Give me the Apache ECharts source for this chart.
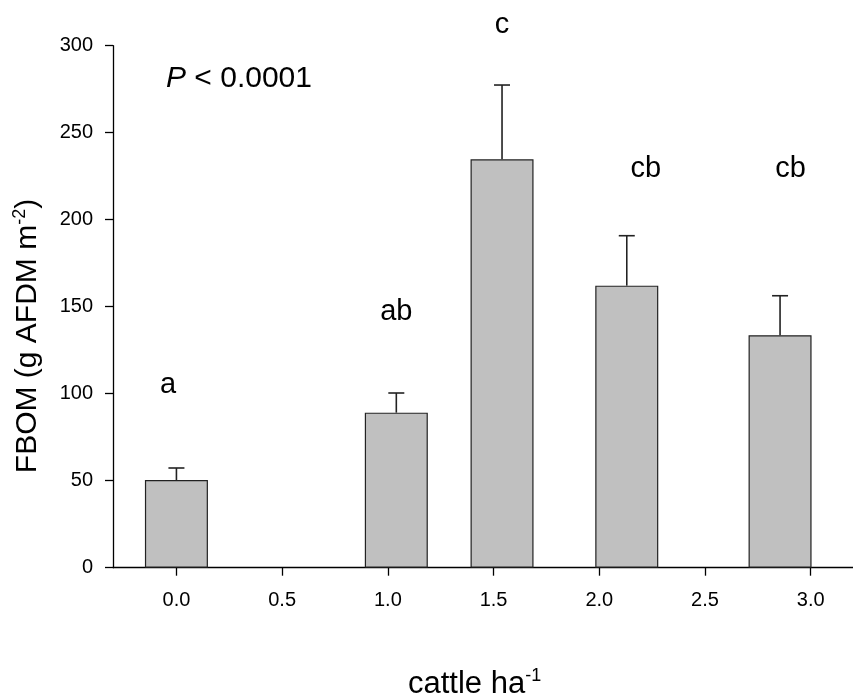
<!DOCTYPE html>
<html>
<head>
<meta charset="utf-8">
<script src="https://cdn.jsdelivr.net/npm/echarts@6/dist/echarts.min.js"></script>
<style>
  html, body { margin: 0; padding: 0; background: #fff; }
  #chart { width: 853px; height: 700px; }
</style>
</head>
<body>
<div id="chart"></div>
<script>
// Stocking rate (cattle per hectare) for each stream reach
const stockingRate = [0.0, 1.04, 1.54, 2.13, 2.855];
// Mean FBOM (g AFDM m^-2) and mean + 1 SE
const fbomMean = [50.4, 89.1, 234.7, 162.1, 133.6];
const fbomUpper = [57.3, 100.4, 277.4, 190.8, 156.3];

// Post-hoc group letters and where they sit
const groupLetters = ['a', 'ab', 'c', 'cb', 'cb'];
const letterX = [-0.04, 1.04, 1.54, 2.22, 2.905];
const letterY = [105, 147, 312, 229, 229];

// Axis ticks
const xTicks = [0.0, 0.5, 1.0, 1.5, 2.0, 2.5, 3.0];
const yTicks = [0, 50, 100, 150, 200, 250, 300];

const FONT = '"Liberation Sans", Arial, Helvetica, sans-serif';
const INK = '#000';

const chart = echarts.init(document.getElementById('chart'), null, { renderer: 'canvas' });

const option = {
  backgroundColor: '#fff',
  animation: false,
  grid: { left: 113, right: 0, top: 45.7, bottom: 132.3, containLabel: false },
  xAxis: {
    type: 'value',
    min: -0.3,
    max: 3.2,
    splitLine: { show: false },
    axisLine: { show: true, onZero: false, lineStyle: { color: INK, width: 1.3 } },
    axisTick: { show: true, inside: false, length: 8, customValues: xTicks, lineStyle: { color: INK, width: 1.3 } },
    axisLabel: {
      show: true, customValues: xTicks, margin: 23,
      color: INK, fontFamily: FONT, fontSize: 20,
      formatter: v => v.toFixed(1)
    }
  },
  yAxis: {
    type: 'value',
    min: 0,
    max: 300,
    interval: 50,
    splitLine: { show: false },
    axisLine: { show: true, onZero: false, lineStyle: { color: INK, width: 1.3 } },
    axisTick: { show: true, inside: false, length: 8, customValues: yTicks, lineStyle: { color: INK, width: 1.3 } },
    axisLabel: { margin: 20, customValues: yTicks, color: INK, fontFamily: FONT, fontSize: 20 }
  },
  series: [
    {
      type: 'bar',
      barWidth: 63,
      data: stockingRate.map((x, i) => [x, fbomMean[i]]),
      itemStyle: { color: '#c0c0c0', borderColor: '#222', borderWidth: 1.2 },
      z: 2
    },
    {
      // upper standard-error whiskers with caps
      type: 'custom',
      data: stockingRate.map((x, i) => [x, fbomMean[i], fbomUpper[i]]),
      renderItem: function (params, api) {
        const base = api.coord([api.value(0), api.value(1)]);
        const top = api.coord([api.value(0), api.value(2)]);
        const half = 8;
        const style = { stroke: '#222', lineWidth: 1.6 };
        return {
          type: 'group',
          children: [
            { type: 'line', shape: { x1: base[0], y1: base[1], x2: top[0], y2: top[1] }, style: style },
            { type: 'line', shape: { x1: top[0] - half, y1: top[1], x2: top[0] + half, y2: top[1] }, style: style }
          ]
        };
      },
      z: 3
    },
    {
      // group letters above the bars
      type: 'scatter',
      clip: false,
      symbolSize: 0,
      itemStyle: { opacity: 1 },
      data: letterX.map((x, i) => ({ value: [x, letterY[i]], name: groupLetters[i] })),
      label: {
        show: true,
        position: 'inside',
        formatter: p => p.name,
        color: INK,
        opacity: 1,
        fontFamily: FONT,
        fontSize: 29
      },
      silent: true,
      z: 4
    }
  ],
  graphic: [
    {
      type: 'text',
      left: 166,
      top: 64,
      style: {
        text: '{i|P} < 0.0001',
        fill: INK,
        font: '30px ' + FONT,
        rich: { i: { fontStyle: 'italic', fontSize: 30, fontFamily: FONT, fill: INK } }
      }
    },
    {
      type: 'text',
      x: 28,
      y: 336,
      rotation: Math.PI / 2,
      style: {
        text: '{m|FBOM (g AFDM m}{s|-2}{m|)}',
        align: 'center',
        verticalAlign: 'middle',
        fill: INK,
        rich: {
          m: { fontSize: 30, fontFamily: FONT, fill: INK, lineHeight: 33 },
          s: { fontSize: 18, fontFamily: FONT, fill: INK, verticalAlign: 'top', lineHeight: 33 }
        }
      }
    },
    {
      type: 'text',
      x: 408,
      y: 684,
      style: {
        text: '{m|cattle ha}{s|-1}',
        align: 'left',
        verticalAlign: 'middle',
        fill: INK,
        rich: {
          m: { fontSize: 31, fontFamily: FONT, fill: INK, lineHeight: 34 },
          s: { fontSize: 18, fontFamily: FONT, fill: INK, verticalAlign: 'top', lineHeight: 34 }
        }
      }
    }
  ]
};

chart.setOption(option);
</script>
</body>
</html>
